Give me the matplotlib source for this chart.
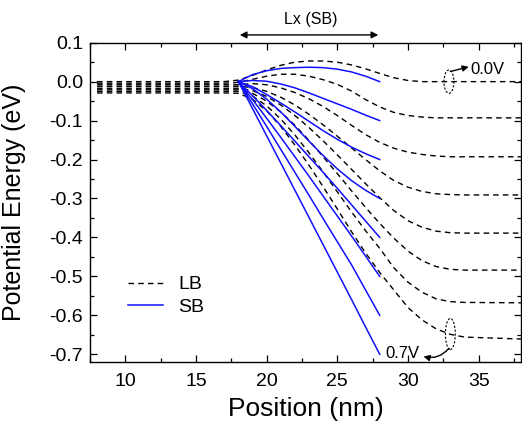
import matplotlib
matplotlib.use("Agg")
import matplotlib.pyplot as plt
from matplotlib.patches import Ellipse
import numpy as np

plt.rcParams['font.family'] = ['Liberation Sans', 'DejaVu Sans']

# ---- data ----
voltages = ["0.0V", "0.1V", "0.2V", "0.3V", "0.4V", "0.5V", "0.6V", "0.7V"]

# SB (short barrier) curves, x = 18..28 nm
sb_x = [18, 19, 20, 21, 22, 23, 24, 25, 26, 27, 28]
sb_00 = [0, 0.018, 0.028, 0.034, 0.036, 0.037, 0.036, 0.032, 0.025, 0.014, 0.0]
sb_01 = [0, 0.003, 0.001, -0.006, -0.016, -0.029, -0.043, -0.057, -0.071, -0.086, -0.1]
sb_02 = [0, -0.013, -0.033, -0.055, -0.078, -0.102, -0.126, -0.148, -0.168, -0.185, -0.2]
sb_03 = [0, -0.018, -0.045, -0.078, -0.115, -0.153, -0.19, -0.224, -0.254, -0.279, -0.3]
sb_04 = [0, -0.036, -0.074, -0.113, -0.153, -0.193, -0.233, -0.274, -0.316, -0.358, -0.4]
sb_05 = [0, -0.046, -0.094, -0.143, -0.193, -0.243, -0.294, -0.345, -0.396, -0.448, -0.5]
sb_06 = [0, -0.057, -0.115, -0.174, -0.233, -0.292, -0.352, -0.411, -0.47, -0.535, -0.6]
sb_07 = [0, -0.069, -0.139, -0.209, -0.279, -0.349, -0.419, -0.489, -0.559, -0.63, -0.7]
sb_curves = [sb_00, sb_01, sb_02, sb_03, sb_04, sb_05, sb_06, sb_07]

# LB (long barrier) curves, x = 8, 17, 18..34, 38 nm
lb_x = [8, 17, 18, 19, 20, 21, 22, 23, 24, 25, 26, 27, 28, 29, 30, 31, 32, 33, 34, 38]
lb_00 = [0.0, 0.0, 0.004, 0.016, 0.03, 0.042, 0.05, 0.053, 0.053, 0.05, 0.043, 0.033, 0.021, 0.01, 0.003, 0.0, 0.0, 0.0, 0.0, 0.0]
lb_01 = [-0.004, -0.004, -0.002, 0.006, 0.014, 0.019, 0.019, 0.014, 0.005, -0.007, -0.024, -0.046, -0.065, -0.079, -0.087, -0.091, -0.093, -0.093, -0.093, -0.093]
lb_02 = [-0.008, -0.008, -0.008, -0.005, -0.008, -0.016, -0.028, -0.044, -0.064, -0.087, -0.112, -0.136, -0.156, -0.171, -0.181, -0.187, -0.191, -0.193, -0.193, -0.193]
lb_03 = [-0.012, -0.012, -0.012, -0.015, -0.025, -0.04, -0.06, -0.084, -0.111, -0.14, -0.17, -0.2, -0.229, -0.254, -0.271, -0.282, -0.288, -0.29, -0.291, -0.291]
lb_04 = [-0.017, -0.017, -0.017, -0.023, -0.038, -0.06, -0.087, -0.118, -0.152, -0.188, -0.225, -0.262, -0.298, -0.331, -0.357, -0.374, -0.384, -0.388, -0.389, -0.389]
lb_05 = [-0.021, -0.021, -0.021, -0.03, -0.05, -0.078, -0.112, -0.151, -0.193, -0.236, -0.28, -0.323, -0.364, -0.402, -0.435, -0.46, -0.475, -0.482, -0.484, -0.484]
lb_06 = [-0.025, -0.025, -0.025, -0.037, -0.062, -0.096, -0.137, -0.183, -0.232, -0.283, -0.334, -0.383, -0.428, -0.478, -0.515, -0.541, -0.558, -0.565, -0.567, -0.568]
lb_07 = [-0.029, -0.029, -0.03, -0.045, -0.075, -0.115, -0.163, -0.215, -0.27, -0.327, -0.385, -0.44, -0.49, -0.535, -0.58, -0.612, -0.635, -0.649, -0.656, -0.661]
lb_curves = [lb_00, lb_01, lb_02, lb_03, lb_04, lb_05, lb_06, lb_07]

x_ticks = [10, 15, 20, 25, 30, 35]
y_ticks = [0.1, 0.0, -0.1, -0.2, -0.3, -0.4, -0.5, -0.6, -0.7]

# ---- figure ----
fig = plt.figure(figsize=(5.22, 4.23), dpi=100)
ax = fig.add_axes([90/522, 1-362/423, 431/522, 319.3/423])

for i, c in enumerate(lb_curves):
    ax.plot(lb_x, c, color='black', lw=1.0, ls=(0, (4, 3)),
            label='LB' if i == 0 else None)
for i, c in enumerate(sb_curves):
    ax.plot(sb_x, c, color='#1010ff', lw=1.1,
            label='SB' if i == 0 else None)

ax.set_xlim(8, 38)
ax.set_ylim(-0.72, 0.1)
ax.set_xticks(x_ticks)
ax.set_yticks(y_ticks)
ax.set_yticklabels([f"{v:.1f}" for v in y_ticks])
ax.set_xticks(np.arange(7.5, 38, 2.5), minor=True)
ax.set_yticks(np.arange(-0.7, 0.11, 0.05), minor=True)
ax.tick_params(which='both', direction='in', top=True, right=True, width=0.9)
ax.tick_params(which='major', length=5, labelsize=14, pad=5)
ax.tick_params(axis='x', which='major', pad=8)
ax.tick_params(which='minor', length=3)
for s in ax.spines.values():
    s.set_linewidth(1.0)

ax.set_xlabel('Position (nm)', fontsize=19)
ax.set_ylabel('Potential Energy (eV)', fontsize=18)
ax.yaxis.set_label_coords(-0.148, 0.5)
ax.xaxis.set_label_coords(0.5, -0.11)

leg = ax.legend(loc='lower left', bbox_to_anchor=(0.07, 0.12), frameon=False,
                fontsize=14, handlelength=1.8, handletextpad=0.8,
                labelspacing=0.25, borderaxespad=0)

# top annotation
ax.annotate('', xy=(18.1, 0.12), xytext=(27.9, 0.12), xycoords='data',
            annotation_clip=False,
            arrowprops=dict(arrowstyle='<|-|>', color='black', lw=1.0,
                            mutation_scale=10, shrinkA=0, shrinkB=0))
ax.text(23.1, 0.16, 'Lx (SB)', ha='center', va='center', fontsize=11.5,
        clip_on=False)

# 0.0V marker
ax.add_patch(Ellipse((32.9, 0.0), 0.7, 0.06, fill=False, ls=(0, (2, 1.5)),
                     lw=0.8, ec='black'))
ax.annotate('', xy=(34.3, 0.038), xytext=(33.0, 0.026),
            arrowprops=dict(arrowstyle='-|>', color='black', lw=1.0,
                            mutation_scale=9, shrinkA=0, shrinkB=0))
ax.text(34.45, 0.03, '0.0V', ha='left', va='center', fontsize=12)

# 0.7V marker
ax.add_patch(Ellipse((33.0, -0.648), 0.7, 0.08, fill=False, ls=(0, (2, 1.5)),
                     lw=0.8, ec='black'))
ax.annotate('', xy=(31.1, -0.706), xytext=(32.9, -0.685),
            arrowprops=dict(arrowstyle='-|>', color='black', lw=1.0,
                            mutation_scale=9, shrinkA=0, shrinkB=0,
                            connectionstyle='arc3,rad=-0.3'))
ax.text(29.6, -0.698, '0.7V', ha='center', va='center', fontsize=12)

fig.savefig('out.png', dpi=100)
